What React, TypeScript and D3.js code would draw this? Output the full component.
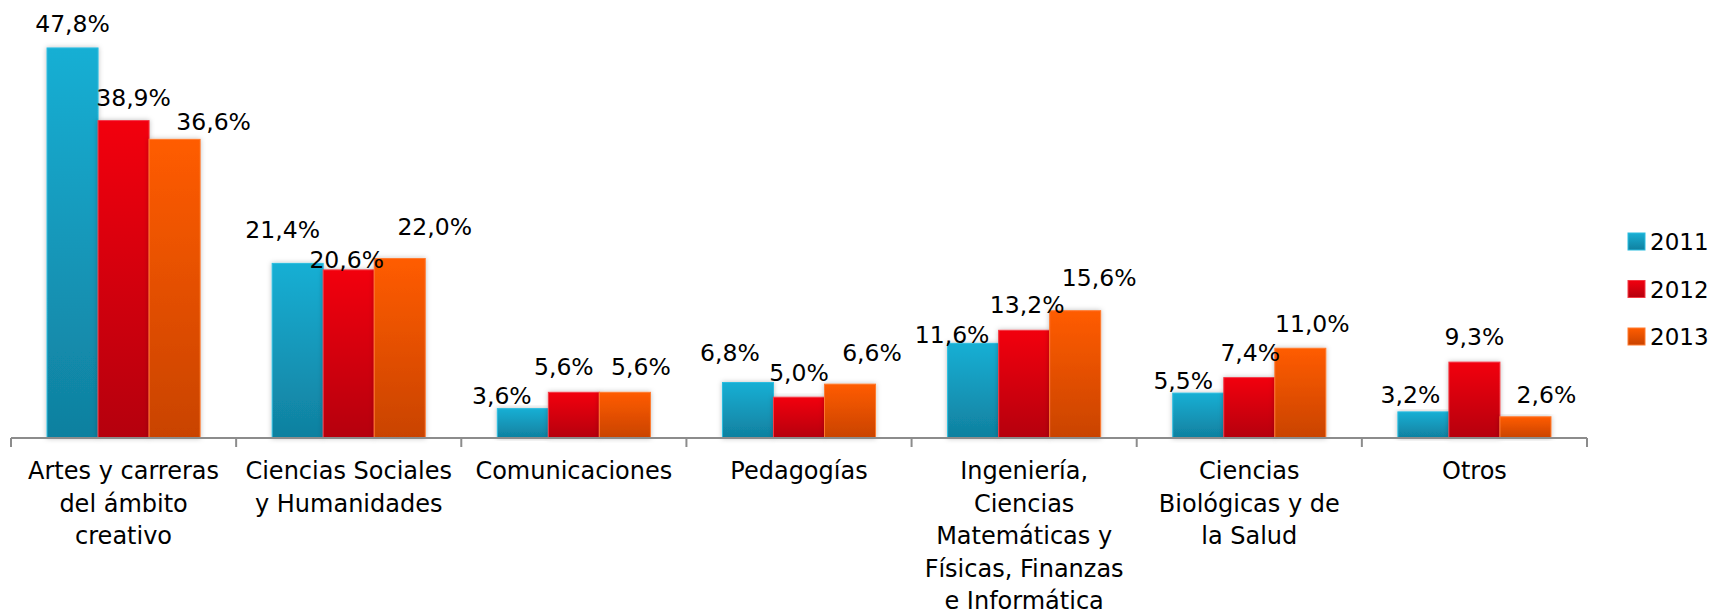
import React, { useEffect, useRef } from 'react';
import * as d3 from 'd3';

// categories (line breaks as they appear under the axis)
const categories = [
  'Artes y carreras\ndel ámbito\ncreativo',
  'Ciencias Sociales\ny Humanidades',
  'Comunicaciones',
  'Pedagogías',
  'Ingeniería,\nCiencias\nMatemáticas y\nFísicas, Finanzas\ne Informática',
  'Ciencias\nBiológicas y de\nla Salud',
  'Otros',
];

const years = ['2011', '2012', '2013'];

const values2011 = [47.8, 21.4, 3.6, 6.8, 11.6, 5.5, 3.2];
const values2012 = [38.9, 20.6, 5.6, 5.0, 13.2, 7.4, 9.3];
const values2013 = [36.6, 22.0, 5.6, 6.6, 15.6, 11.0, 2.6];

// hand placed label nudges [dx, dy from bar top], per year then category
const labelNudge = [
  [[0, -16], [-15, -25], [-21, -5], [-18, -22], [-21, 0], [-15, -4], [-13, -9]],
  [[10, -15], [-2, -2], [-10, -17], [0, -16], [3, -17], [1, -17], [0, -17]],
  [[39, -9], [35, -23], [16, -17], [22, -23], [24, -25], [12, -16], [21, -14]],
];

const W = 1725;
const H = 615;
const FONT = '"DejaVu Sans", sans-serif';
const colors = [
  { top: '#19AFD4', bottom: '#10809F', edge: '#2bbde0' },
  { top: '#F2000F', bottom: '#B5000D', edge: '#f43a45' },
  { top: '#FF5C00', bottom: '#C94300', edge: '#ff7a2e' },
];

const App = () => {
  const ref = useRef<SVGSVGElement>(null);

  useEffect(() => {
    document.body.style.margin = '0';
    const svg = d3.select(ref.current);
    svg.selectAll('*').remove();

    const series = [values2011, values2012, values2013];

    const x0 = d3.scaleBand<string>()
      .domain(categories)
      .range([11, 1587])
      .paddingInner(0.32)
      .paddingOuter(0.16);
    const x1 = d3.scaleBand<string>()
      .domain(years)
      .range([0, x0.bandwidth()]);
    const y = d3.scaleLinear().domain([0, 50]).range([438, 30]);
    const step = x0.step();

    const defs = svg.append('defs');
    colors.forEach((c, i) => {
      const g = defs.append('linearGradient')
        .attr('id', 'grad' + i)
        .attr('x1', 0).attr('y1', 0).attr('x2', 0).attr('y2', 1);
      g.append('stop').attr('offset', '0%').attr('stop-color', c.top);
      g.append('stop').attr('offset', '100%').attr('stop-color', c.bottom);
    });
    const shadow = defs.append('filter').attr('id', 'shadow')
      .attr('x', '-20%').attr('y', '-10%').attr('width', '140%').attr('height', '120%');
    shadow.append('feDropShadow')
      .attr('dx', 0).attr('dy', 0).attr('stdDeviation', 2.5)
      .attr('flood-color', '#000').attr('flood-opacity', 0.25);

    // bars
    series.forEach((vals, si) => {
      svg.append('g')
        .selectAll('rect')
        .data(vals)
        .enter()
        .append('rect')
        .attr('x', (d, i) => (x0(categories[i]) as number) + (x1(years[si]) as number))
        .attr('y', d => y(d))
        .attr('width', x1.bandwidth())
        .attr('height', d => y(0) - y(d))
        .attr('fill', `url(#grad${si})`)
        .attr('stroke', colors[si].edge)
        .attr('stroke-width', 1)
        .attr('filter', 'url(#shadow)');
    });

    // axis
    const axis = svg.append('g').attr('stroke', '#8c8c8c').attr('stroke-width', 2);
    axis.append('line')
      .attr('x1', x0.range()[0]).attr('x2', x0.range()[1])
      .attr('y1', y(0)).attr('y2', y(0));
    const edges = categories.map(c => (x0(c) as number) - step * x0.paddingInner() / 2);
    edges.push(x0.range()[1]);
    axis.selectAll('line.tick')
      .data(edges)
      .enter()
      .append('line')
      .attr('class', 'tick')
      .attr('x1', d => d).attr('x2', d => d)
      .attr('y1', y(0)).attr('y2', y(0) + 9);

    // category labels
    const catG = svg.append('g')
      .attr('font-family', FONT)
      .attr('font-size', 24)
      .attr('fill', '#000')
      .attr('text-anchor', 'middle');
    categories.forEach(c => {
      const cx = (x0(c) as number) + x0.bandwidth() / 2;
      const t = catG.append('text').attr('x', cx).attr('y', y(0) + 41);
      c.split('\n').forEach((line, li) => {
        t.append('tspan').attr('x', cx).attr('dy', li === 0 ? 0 : 32.5).text(line);
      });
    });

    // value labels
    const fmt = (v: number) => v.toFixed(1).replace('.', ',') + '%';
    series.forEach((vals, si) => {
      svg.append('g')
        .selectAll('text')
        .data(vals)
        .enter()
        .append('text')
        .attr('font-family', FONT)
        .attr('font-size', 23.5)
        .attr('text-anchor', 'middle')
        .attr('x', (d, i) => (x0(categories[i]) as number) + (x1(years[si]) as number) + x1.bandwidth() / 2 + labelNudge[si][i][0])
        .attr('y', (d, i) => y(d) + labelNudge[si][i][1])
        .text(d => fmt(d));
    });

    // legend
    const leg = svg.append('g').attr('transform', 'translate(1628,0)');
    years.forEach((yr, i) => {
      const cy = 241 + i * 47.5;
      leg.append('rect')
        .attr('x', 0).attr('y', cy - 8)
        .attr('width', 17).attr('height', 17)
        .attr('fill', `url(#grad${i})`)
        .attr('stroke', colors[i].edge);
      leg.append('text')
        .attr('x', 22).attr('y', cy + 9)
        .attr('font-family', FONT)
        .attr('font-size', 23)
        .text(yr);
    });
  }, []);

  return (
    <div>
      <svg ref={ref} width={W} height={H} style={{ display: 'block', background: '#fff' }} />
    </div>
  );
};

export default App;
